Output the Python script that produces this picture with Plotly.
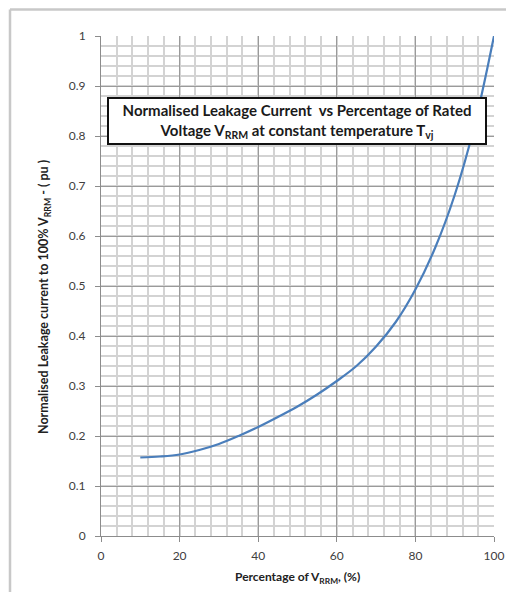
import plotly.graph_objects as go

pct_vrrm = [10, 15, 20, 25, 30, 35, 40, 45, 50, 55, 60, 65, 70, 75, 80, 85, 90, 95, 100]
leak_pu = [0.157, 0.159, 0.163, 0.172, 0.184, 0.2, 0.218, 0.238, 0.259, 0.283, 0.31, 0.34,
           0.379, 0.428, 0.493, 0.576, 0.682, 0.82, 1.0]
x_ticks = [0, 20, 40, 60, 80, 100]
y_ticks = [0, 0.1, 0.2, 0.3, 0.4, 0.5, 0.6, 0.7, 0.8, 0.9, 1]
y_tick_text = ["0", "0.1", "0.2", "0.3", "0.4", "0.5", "0.6", "0.7", "0.8", "0.9", "1"]

# page body has an 8px margin; figure is sized to avoid scrollbars
OFF = 8
W, H = 498, 584
L, R, T, B = 93, 12, 28, 56
pw, ph = W - L - R, H - T - B

def px_x(p):  # page x -> paper
    return (p - OFF - L) / pw

def px_y(p):  # page y -> paper
    return (H - B - (p - OFF)) / ph

fig = go.Figure()
fig.add_trace(go.Scatter(
    x=pct_vrrm, y=leak_pu, mode="lines",
    line=dict(color="#4a7ebb", width=2.2, shape="spline", smoothing=1.0),
    showlegend=False, hoverinfo="x+y",
))

font = "Lato, Carlito, 'Open Sans', sans-serif"
tick_font = dict(family=font, size=12, color="#404040")

fig.update_layout(
    width=W, height=H,
    margin=dict(l=L, r=R, t=T, b=B),
    paper_bgcolor="white", plot_bgcolor="white",
    font=dict(family=font, color="#333333", size=11),
    xaxis=dict(
        range=[0, 100], tickvals=x_ticks, ticktext=[str(v) for v in x_ticks],
        showgrid=True, gridcolor="#9a9a9a", gridwidth=1,
        minor=dict(dtick=4, showgrid=True, gridcolor="#d3d3d3", gridwidth=1.5),
        showline=True, linecolor="#8c8c8c", linewidth=1,
        ticks="outside", ticklen=5, tickcolor="#8c8c8c",
        ticklabelstandoff=4,
        zeroline=False, fixedrange=True, automargin=False,
        tickfont=tick_font,
    ),
    yaxis=dict(
        range=[0, 1], tickvals=y_ticks, ticktext=y_tick_text,
        showgrid=True, gridcolor="#9a9a9a", gridwidth=1,
        minor=dict(dtick=0.02, showgrid=True, gridcolor="#d3d3d3", gridwidth=1.5),
        showline=True, linecolor="#8c8c8c", linewidth=1,
        ticks="outside", ticklen=5, tickcolor="#8c8c8c",
        ticklabelstandoff=7,
        zeroline=False, fixedrange=True, automargin=False,
        tickfont=tick_font,
    ),
    annotations=[
        dict(
            xref="paper", yref="paper",
            x=px_x(297), y=px_y(121), xanchor="center", yanchor="middle",
            text="<b>Normalised Leakage Current  vs Percentage of Rated<br>Voltage V<sub>RRM</sub> at constant temperature T<sub>vj</sub></b>",
            showarrow=False, align="center",
            font=dict(family=font, size=15, color="#1a1a1a"),
            bgcolor="white", bordercolor="#111111", borderwidth=2, borderpad=2,
            width=372,
        ),
        dict(
            xref="paper", yref="paper",
            x=px_x(44), y=px_y(297), xanchor="center", yanchor="middle",
            text="<b>Normalised Leakage current to 100% V<sub>RRM</sub> - ( pu )</b>",
            textangle=-90, showarrow=False,
            font=dict(family=font, size=12.5, color="#222222"),
        ),
        dict(
            xref="paper", yref="paper",
            x=px_x(297), y=px_y(577), xanchor="center", yanchor="middle",
            text="<b>Percentage of V<sub>RRM</sub>, (%)</b>",
            showarrow=False,
            font=dict(family=font, size=12, color="#222222"),
        ),
    ],
    shapes=[
        dict(type="line", xref="paper", yref="paper", x0=px_x(10), x1=px_x(520), y0=px_y(9.5), y1=px_y(9.5),
             line=dict(color="#c8c8c8", width=2.5)),
        dict(type="line", xref="paper", yref="paper", x0=px_x(10), x1=px_x(10), y0=px_y(9.5), y1=px_y(610),
             line=dict(color="#c8c8c8", width=2.5)),
    ],
)

fig.write_html("out.html")
